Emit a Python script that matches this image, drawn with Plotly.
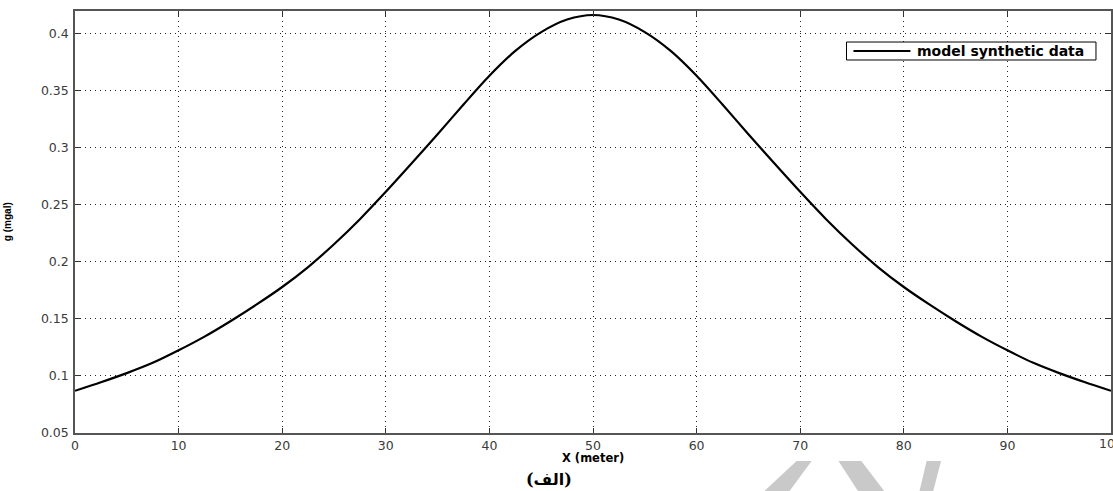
import plotly.graph_objects as go

# Horizontal position along the profile (m) and the modelled gravity anomaly (mGal)
x_m = [0, 2.5, 5, 7.5, 10, 12.5, 15, 17.5, 20, 22.5, 25, 27.5, 30, 32.5, 35, 37.5,
       40, 42.5, 45, 47.5, 50, 52.5, 55, 57.5, 60, 62.5, 65, 67.5, 70, 72.5, 75,
       77.5, 80, 82.5, 85, 87.5, 90, 92.5, 95, 97.5, 100]
g_mgal = [0.087, 0.0945, 0.1025, 0.1115, 0.1225, 0.1345, 0.148, 0.1625, 0.178,
          0.1955, 0.2155, 0.2375, 0.2615, 0.2865, 0.312, 0.338, 0.3632, 0.385,
          0.4015, 0.4125, 0.4165, 0.4125, 0.4015, 0.385, 0.3632, 0.338, 0.312,
          0.2865, 0.2615, 0.2375, 0.2155, 0.1955, 0.178, 0.1625, 0.148, 0.1345,
          0.1225, 0.1115, 0.1025, 0.0945, 0.087]

x_ticks = [0, 10, 20, 30, 40, 50, 60, 70, 80, 90, 100]
y_ticks = [0.05, 0.1, 0.15, 0.2, 0.25, 0.3, 0.35, 0.4]
y_tick_text = ["0.05", "0.1", "0.15", "0.2", "0.25", "0.3", "0.35", "0.4"]

series_name = "model synthetic data"
x_title = "X (meter)"
y_title = "g (mgal)"
caption = "(الف)"

fig = go.Figure()
fig.add_trace(go.Scatter(
    x=x_m, y=g_mgal, mode="lines", name=series_name, showlegend=False,
    line=dict(color="black", width=2.2, shape="spline", smoothing=0.8),
))

tick_font = dict(family="DejaVu Sans, sans-serif", size=12.5, color="#3a3a3a")
axis_common = dict(
    showline=True, linecolor="#555555", linewidth=1.5, mirror="ticks",
    ticks="inside", ticklen=5, tickcolor="#333333", tickwidth=1,
    showgrid=True, gridcolor="#222222", gridwidth=1, griddash="1px,4px",
    zeroline=False, tickfont=tick_font,
)

fig.update_layout(
    width=1113, height=491,
    margin=dict(l=75, r=0, t=11, b=58),
    paper_bgcolor="white", plot_bgcolor="white",
    showlegend=False,
    xaxis=dict(range=[0, 100], tickvals=x_ticks, ticklabelstandoff=0, **axis_common),
    yaxis=dict(range=[0.05, 0.42], tickvals=y_ticks, ticktext=y_tick_text,
               ticklabelstandoff=2, **axis_common),
)

# Label for the last x tick, which sits on the right edge of the axes
fig.add_annotation(
    text=str(x_ticks[-1]), xref="paper", yref="paper", x=1.0, y=0,
    xanchor="center", yanchor="top", yshift=-1, showarrow=False, font=tick_font,
)

# Legend box with a long line sample
leg_x0, leg_x1, leg_y0, leg_y1 = 0.7447, 0.9855, 0.8839, 0.9265
leg_mid = (leg_y0 + leg_y1) / 2
fig.add_shape(type="rect", xref="paper", yref="paper",
              x0=leg_x0, x1=leg_x1, y0=leg_y0, y1=leg_y1,
              line=dict(color="black", width=1), fillcolor="white", layer="above")
fig.add_shape(type="line", xref="paper", yref="paper",
              x0=leg_x0 + 0.0067, x1=leg_x0 + 0.0617, y0=leg_mid, y1=leg_mid,
              line=dict(color="black", width=2), layer="above")
fig.add_annotation(
    text=f"<b>{series_name}</b>", xref="paper", yref="paper",
    x=leg_x0 + 0.066, y=leg_mid, xanchor="left", yanchor="middle", showarrow=False,
    font=dict(family="DejaVu Sans, sans-serif", size=14, color="black"),
)

# Axis titles
fig.add_annotation(
    text=f"<b>{x_title}</b>", xref="paper", yref="paper", x=0.5, y=-0.059,
    xanchor="center", yanchor="middle", showarrow=False,
    font=dict(family="DejaVu Sans, sans-serif", size=11.5, color="black"),
)
fig.add_annotation(
    text=f"<b>{y_title}</b>", xref="paper", yref="paper", x=-0.0655, y=0.5,
    xanchor="center", yanchor="middle", showarrow=False, textangle=-90,
    font=dict(family="Liberation Sans, Arial, sans-serif", size=10, color="black"),
)
# Figure caption
fig.add_annotation(
    text=f"<b>{caption}</b>", xref="paper", yref="paper", x=0.458, y=-0.11,
    xanchor="center", yanchor="middle", showarrow=False,
    font=dict(family="DejaVu Serif, DejaVu Sans, serif", size=16, color="black"),
)

# Faint grey publisher mark along the lower edge
mark_color = "#c9c9c9"
mark_paths = [
    "M 0.6965 -0.0664 L 0.711 -0.0664 L 0.686 -0.15 L 0.660 -0.15 Z",
    "M 0.737 -0.0664 L 0.759 -0.0664 L 0.785 -0.15 L 0.759 -0.15 Z",
    "M 0.822 -0.0664 L 0.836 -0.0664 L 0.827 -0.15 L 0.814 -0.15 Z",
]
for p in mark_paths:
    fig.add_shape(type="path", path=p, xref="paper", yref="paper",
                  fillcolor=mark_color, line=dict(width=0), layer="above")

fig.write_html("out.html")
